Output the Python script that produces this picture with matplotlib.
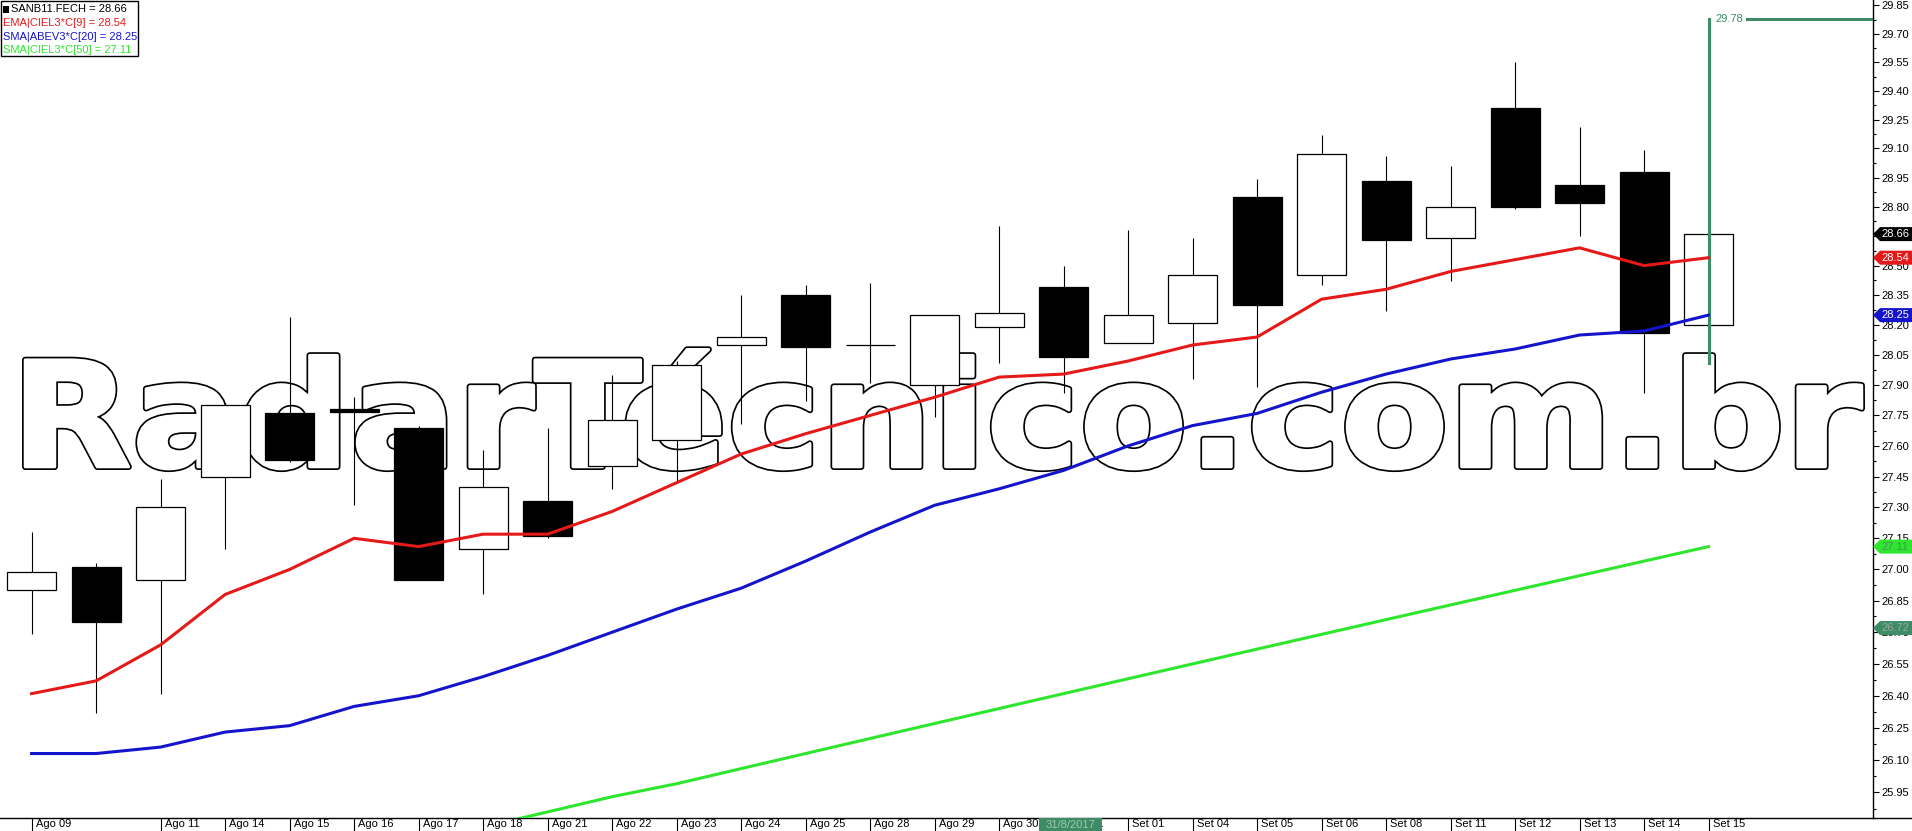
import numpy as np
import matplotlib
matplotlib.use('Agg')
import matplotlib.pyplot as plt
from matplotlib.textpath import TextPath
from matplotlib.font_manager import FontProperties
from matplotlib.patches import PathPatch, Polygon, Rectangle
from matplotlib.transforms import Affine2D, IdentityTransform, ScaledTranslation
from matplotlib.ticker import FixedLocator, FormatStrFormatter, NullFormatter
from matplotlib.lines import Line2D

plt.rcParams['font.family'] = ['Liberation Sans', 'DejaVu Sans']

# dados (SANB11 diário)
dates = ['Ago 09', 'Ago 10', 'Ago 11', 'Ago 14', 'Ago 15', 'Ago 16', 'Ago 17', 'Ago 18', 'Ago 21',
         'Ago 22', 'Ago 23', 'Ago 24', 'Ago 25', 'Ago 28', 'Ago 29', 'Ago 30', 'Ago 31', 'Set 01',
         'Set 04', 'Set 05', 'Set 06', 'Set 08', 'Set 11', 'Set 12', 'Set 13', 'Set 14', 'Set 15']
opens  = [26.90, 27.01, 26.95, 27.45, 27.76, 27.78, 27.69, 27.10, 27.33, 27.50, 27.63, 28.10, 28.35, 28.10,
          27.90, 28.19, 28.39, 28.11, 28.21, 28.85, 28.45, 28.93, 28.64, 29.31, 28.91, 28.98, 28.20]
highs  = [27.18, 27.03, 27.44, 27.81, 28.24, 27.84, 27.70, 27.58, 27.69, 27.95, 28.02, 28.35, 28.40, 28.41,
          28.25, 28.70, 28.50, 28.68, 28.64, 28.94, 29.17, 29.06, 29.01, 29.55, 29.21, 29.09, 28.66]
lows   = [26.69, 26.32, 26.41, 27.10, 27.52, 27.31, 26.95, 26.88, 27.15, 27.39, 27.43, 27.71, 27.82, 27.91,
          27.74, 28.01, 27.86, 28.11, 27.93, 27.89, 28.40, 28.27, 28.42, 28.79, 28.65, 27.86, 28.20]
closes = [26.99, 26.75, 27.30, 27.80, 27.53, 27.765, 26.95, 27.40, 27.16, 27.73, 28.00, 28.14, 28.09, 28.10,
          28.25, 28.26, 28.04, 28.25, 28.45, 28.30, 29.07, 28.63, 28.80, 28.80, 28.82, 28.16, 28.66]

ema9  = [26.41, 26.47, 26.64, 26.88, 27.00, 27.15, 27.11, 27.17, 27.17, 27.28, 27.42, 27.56, 27.66, 27.75,
         27.84, 27.94, 27.955, 28.02, 28.10, 28.14, 28.33, 28.38, 28.47, 28.53, 28.59, 28.50, 28.54]
sma20 = [26.13, 26.13, 26.16, 26.23, 26.26, 26.35, 26.40, 26.49, 26.59, 26.70, 26.81, 26.91, 27.04, 27.18,
         27.31, 27.39, 27.48, 27.60, 27.70, 27.76, 27.865, 27.955, 28.03, 28.08, 28.15, 28.17, 28.25]
sma50 = [25.37, 25.43, 25.49, 25.55, 25.61, 25.67, 25.73, 25.79, 25.86, 25.93, 25.99, 26.06, 26.13, 26.20,
         26.27, 26.34, 26.41, 26.48, 26.55, 26.62, 26.69, 26.76, 26.83, 26.90, 26.97, 27.04, 27.11]

line_price = 29.78
line_start = 28.01
cursor_price = 26.72
cursor_date = '31/8/2017'

W, H = 1912, 831
fig = plt.figure(figsize=(W / 100, H / 100), dpi=100)
ax = fig.add_axes([0, 13 / H, 1873 / W, 818 / H])
ax.set_yscale('log')

x = np.arange(len(dates))
o = np.array(opens); c = np.array(closes)
up = c >= o

# candles
ax.vlines(x, lows, highs, color='black', lw=0.8, zorder=2)
ax.bar(x, np.abs(c - o), bottom=np.minimum(o, c), width=0.76,
       color=['white' if u else 'black' for u in up], edgecolor='black', lw=0.9, zorder=3)

# médias
ax.plot(x, ema9, color='#e61919', lw=2.2, zorder=5)
ax.plot(x, sma20, color='#1414cc', lw=2.2, zorder=5)
ax.plot(x, sma50, color='#2ee62e', lw=2.2, zorder=5)

# linha de estudo
ax.plot([x[-1], x[-1]], [line_start, line_price], color='#3d8c66', lw=2.2, zorder=4)
ax.plot([26.6, 28.6], [line_price, line_price], color='#3d8c66', lw=2.2, zorder=4)
ax.text(26.1, line_price, f'{line_price:.2f}', color='#3d8c66', fontsize=8, ha='left', va='center', zorder=4)

ax.set_xlim(-0.49, 28.55)
ax.set_ylim(25.832, 29.879)

# eixo de preços
major = [round(25.95 + 0.15 * k, 2) for k in range(27)]
minor = [round(25.875 + 0.15 * k, 3) for k in range(28)]
ax.yaxis.tick_right()
ax.yaxis.set_major_locator(FixedLocator(major))
ax.yaxis.set_minor_locator(FixedLocator(minor))
ax.yaxis.set_major_formatter(FormatStrFormatter('%.2f'))
ax.yaxis.set_minor_formatter(NullFormatter())
ax.tick_params(axis='y', which='major', direction='out', length=4.3, width=0.8, labelsize=8, pad=2)
ax.tick_params(axis='y', which='minor', direction='out', length=2.5, width=0.8)

# eixo de datas
tick_idx = [i for i in x if i != 1]
ax.set_xticks(tick_idx)
ax.set_xticklabels([dates[i] for i in tick_idx])
ax.tick_params(axis='x', direction='out', length=9.4, width=0.8, pad=-8.4, labelsize=8)
for lbl in ax.get_xticklabels():
    lbl.set_ha('left')
    lbl.set_transform(lbl.get_transform() + ScaledTranslation(3 / 72, 0, fig.dpi_scale_trans))

for s in ['top', 'left']:
    ax.spines[s].set_visible(False)
ax.spines['bottom'].set_linewidth(1)
ax.spines['right'].set_linewidth(1)
fig.add_artist(Line2D([1873, W], [13, 13], color='black', lw=1, transform=IdentityTransform()))

# marca d'água (letras um pouco engrossadas: contorno preto largo + traço branco por cima)
e = 3.2                     # px de expansão
fp = FontProperties(family='DejaVu Sans', weight='bold')
tp = TextPath((0, 0), 'RadarTécnico.com.br', size=100, prop=fp)
cap = TextPath((0, 0), 'R', size=100, prop=fp).get_extents().y1
ext = tp.get_extents()
tr = (Affine2D().translate(-ext.x0, 0)
      .scale((1865 - 22 - 2 * e) / (ext.x1 - ext.x0), (113.3 - 2 * e) / cap)
      .translate(22 + e, H - 470 + e))
wm = tr.transform_path(tp)
ax.add_patch(PathPatch(wm, facecolor='black', edgecolor='black', lw=2 * e * 0.72, joinstyle='round',
                       transform=IdentityTransform(), zorder=1))
ax.add_patch(PathPatch(wm, facecolor='white', edgecolor='white', lw=(2 * e - 3.4) * 0.72, joinstyle='round',
                       transform=IdentityTransform(), zorder=1.5))

# etiquetas de valor no eixo
def tag(v, face, tcolor):
    yd = ax.transData.transform((0, v))[1]
    fig.add_artist(Polygon([[1873, yd], [1880, yd + 7], [W, yd + 7], [W, yd - 7], [1880, yd - 7]],
                           closed=True, facecolor=face, edgecolor='none', transform=IdentityTransform(), zorder=5))
    fig.text(1895 / W, yd / H, f'{v:.2f}', color=tcolor, fontsize=8, ha='center', va='center', zorder=6)

tag(closes[-1], 'black', 'white')
tag(ema9[-1], '#e61919', 'white')
tag(sma20[-1], '#1414cc', 'white')
tag(sma50[-1], '#2ee62e', '#4f8f5f')
tag(cursor_price, '#3d8c66', '#9aa8a0')

# data do cursor
fig.add_artist(Rectangle((1039, 0), 63, 13, facecolor='#3d8c66', edgecolor='none',
                         transform=IdentityTransform(), zorder=6))
fig.text(1070.5 / W, 6.5 / H, cursor_date, color='#9cc9b0', fontsize=8, ha='center', va='center', zorder=7)

# legenda
fig.add_artist(Rectangle((0.5, H - 56), 137, 55.5, facecolor='white', edgecolor='black', lw=1,
                         transform=IdentityTransform(), zorder=6))
fig.add_artist(Rectangle((3, H - 13), 6, 7, facecolor='black', edgecolor='none',
                         transform=IdentityTransform(), zorder=7))
leg = [(f'SANB11.FECH = {closes[-1]:.2f}', 'black', 11),
       (f'EMA|CIEL3*C[9] = {ema9[-1]:.2f}', '#e61919', 3),
       (f'SMA|ABEV3*C[20] = {sma20[-1]:.2f}', '#1414cc', 3),
       (f'SMA|CIEL3*C[50] = {sma50[-1]:.2f}', '#2ee62e', 3)]
for k, (t, col, x0) in enumerate(leg):
    fig.text(x0 / W, (H - 9.5 - 13.5 * k) / H, t, color=col, fontsize=8, ha='left', va='center', zorder=7)

fig.savefig('out.png', dpi=100)
